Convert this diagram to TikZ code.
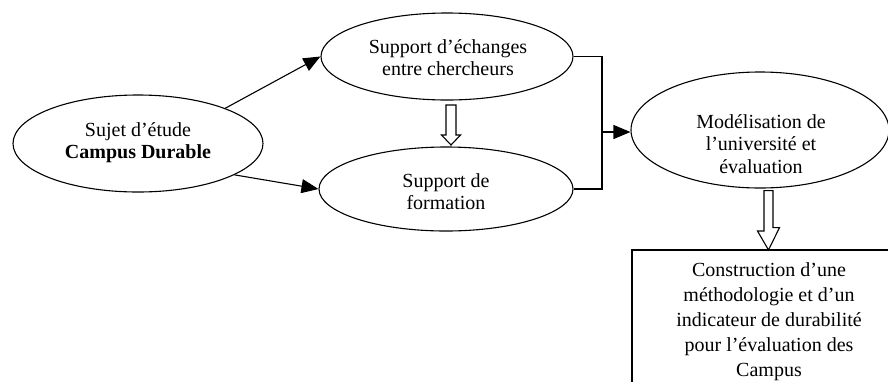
\documentclass[tikz,border=0pt]{standalone}
\usepackage{fontspec}
\setmainfont{Liberation Serif}
\usetikzlibrary{arrows.meta,shapes.geometric,calc}
\begin{document}
\begin{tikzpicture}[x=1pt,y=-1pt,
  oval/.style={draw,ellipse,line width=1.1pt,inner sep=0pt},
  lbl/.style={align=center,inner sep=0pt,font=\fontsize{20}{22}\selectfont},
  conn/.style={line width=1.1pt,-{Triangle[length=17pt,width=14pt]}},
  plain/.style={line width=1.1pt},
  hollow/.style={draw,fill=white,line width=1.1pt,line join=miter}
]
\useasboundingbox (0,0) rectangle (888,381);
\clip (0,0) rectangle (888,381);
% ellipses
\node[oval,minimum width=250pt,minimum height=97pt] (e1) at (138,143.5) {};
\node[oval,minimum width=252pt,minimum height=87pt] (e2) at (447,56.5) {};
\node[oval,minimum width=254pt,minimum height=84pt] (e3) at (446,189) {};
\node[oval,minimum width=258pt,minimum height=116pt] (e4) at (760,130) {};
% texts
\node[lbl] (t1) at (138,143) {Sujet d’étude\\\textbf{Campus Durable}};
\node[lbl] (t2) at (448,58) {Support d’échanges\\entre chercheurs};
\node[lbl] (t3) at (446,192) {Support de\\formation};
\node[lbl,font=\fontsize{20}{22.7}\selectfont] (t4) at (761,144) {Modélisation de\\l’université et\\évaluation};
% box
\draw[plain] (632,250) rectangle (920,420);
\node[lbl,font=\fontsize{20}{25}\selectfont] (t5) at (769,322) {Construction d’une\\méthodologie et d’un\\indicateur de durabilité\\pour l’évaluation des\\Campus};
\coordinate (boxtop) at (768.5,250);
% connectors
\draw[conn] (e1.22) -- (e2.west);
\draw[conn] (e1.-18) -- (e3.west);
\coordinate (br) at (602,132);
\draw[plain] (e2.east) -| (br) |- (e3.east);
\draw[conn] (br) -- (br -| e4.west);
% hollow arrows
\draw[hollow] (446,105) -- (456,105) -- (456,135) -- (460.5,135) -- (451,145) -- (441.5,135) -- (446,135) -- cycle;
\draw[hollow] ($(e4.south)+(4,2)$) -- ++(9,0) -- ++(0,37) -- ++(6.5,0) -- (boxtop) -- ++(-11,-19) -- ++(6.5,0) -- cycle;
\end{tikzpicture}
\end{document}
